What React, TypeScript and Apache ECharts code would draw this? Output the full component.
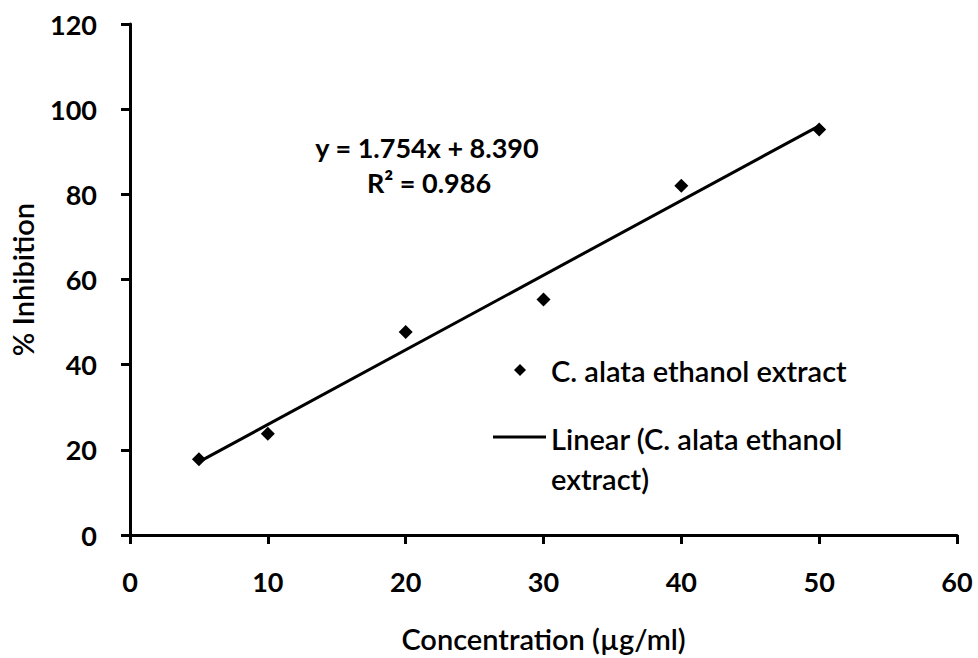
import React, { useEffect, useRef } from "react";
import * as echarts from "echarts";

const concentrations = [5, 10, 20, 30, 40, 50];
const inhibition = [17.8, 23.8, 47.7, 55.3, 82.0, 95.2];
const slope = 1.754;
const intercept = 8.39;
const trendX = [5, 50];
const xTicks = { min: 0, max: 60, interval: 10 };
const yTicks = { min: 0, max: 120, interval: 20 };
const equationText = "y = 1.754x + 8.390";
const r2Text = "R\u00b2 = 0.986";
const scatterName = "C. alata ethanol extract";
const linearName = "Linear (C. alata ethanol\nextract)";
const xName = "Concentration (\u00b5g/ml)";
const yName = "% Inhibition";

const FONT = "Lato";

export default function App() {
  const ref = useRef<HTMLDivElement>(null);
  useEffect(() => {
    if (!ref.current) return;
    const chart = echarts.init(ref.current, null, { renderer: "svg" });
    const tickStyle = { color: "#000", fontFamily: FONT, fontSize: 27, fontWeight: "bold" as const };
    const nameStyle = { color: "#000", fontFamily: FONT, fontSize: 29, fontWeight: 600 };
    chart.setOption({
      animation: false,
      backgroundColor: "#fff",
      grid: { left: 127, right: 21, top: 24, bottom: 122, containLabel: false },
      xAxis: {
        type: "value",
        min: xTicks.min,
        max: xTicks.max,
        interval: xTicks.interval,
        name: xName,
        nameLocation: "middle",
        nameGap: 89,
        nameTextStyle: nameStyle,
        axisLine: { show: true, onZero: false, lineStyle: { color: "#000", width: 3 } },
        axisTick: { show: true, length: 9, lineStyle: { color: "#000", width: 3 } },
        axisLabel: { ...tickStyle, margin: 33 },
        splitLine: { show: false },
      },
      yAxis: {
        type: "value",
        min: yTicks.min,
        max: yTicks.max,
        interval: yTicks.interval,
        name: yName,
        nameLocation: "middle",
        nameGap: 93,
        nameRotate: 90,
        nameTextStyle: nameStyle,
        axisLine: { show: true, onZero: false, lineStyle: { color: "#000", width: 3 } },
        axisTick: { show: true, length: 9, lineStyle: { color: "#000", width: 3 } },
        axisLabel: { ...tickStyle, margin: 33 },
        splitLine: { show: false },
      },
      series: [
        {
          name: "Linear",
          type: "line",
          data: trendX.map((x) => [x, slope * x + intercept]),
          symbol: "none",
          lineStyle: { color: "#000", width: 3 },
          z: 2,
        },
        {
          name: scatterName,
          type: "scatter",
          data: concentrations.map((x, i) => [x, inhibition[i]]),
          symbol: "diamond",
          symbolSize: 14,
          itemStyle: { color: "#000", opacity: 1 },
          z: 3,
        },
      ],
      graphic: [
        {
          type: "text",
          x: 427,
          y: 147,
          style: { text: equationText, fill: "#000", font: `bold 27px ${FONT}`, textAlign: "center", textVerticalAlign: "middle" },
        },
        {
          type: "text",
          x: 429,
          y: 182,
          style: { text: r2Text, fill: "#000", font: `bold 27px ${FONT}`, textAlign: "center", textVerticalAlign: "middle" },
        },
        {
          type: "polygon",
          shape: { points: [[520, 364], [526, 370], [520, 376], [514, 370]] },
          style: { fill: "#000" },
        },
        {
          type: "text",
          x: 551,
          y: 370,
          style: { text: scatterName, fill: "#000", font: `600 29px ${FONT}`, textVerticalAlign: "middle" },
        },
        {
          type: "line",
          shape: { x1: 493, y1: 437, x2: 546, y2: 437 },
          style: { stroke: "#000", lineWidth: 3 },
        },
        {
          type: "text",
          x: 551,
          y: 418,
          style: { text: linearName, fill: "#000", font: `600 29px ${FONT}`, lineHeight: 40, textVerticalAlign: "top" },
        },
      ],
    });
    return () => chart.dispose();
  }, []);
  return <div ref={ref} style={{ width: 978, height: 658, position: "absolute", left: 0, top: 0 }} />;
}
